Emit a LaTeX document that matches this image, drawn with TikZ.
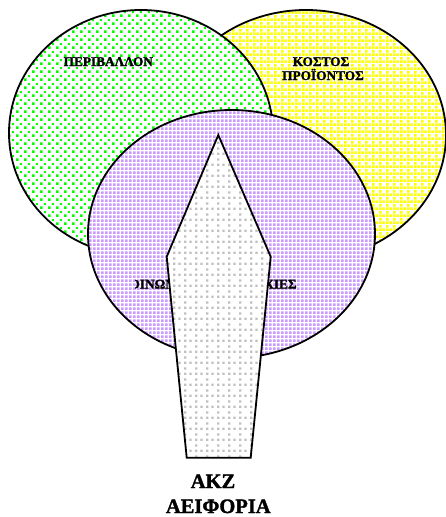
\documentclass[tikz,border=0pt]{standalone}
\usepackage{fontspec}
\setmainfont{Liberation Serif}[BoldFont={Liberation Serif Bold},BoldFeatures={FakeBold=1.6}]
\usetikzlibrary{patterns,shapes.geometric}

\definecolor{leafgreen}{RGB}{0,255,0}
\definecolor{sunyellow}{RGB}{255,255,0}
\definecolor{lilac}{RGB}{204,153,255}
\definecolor{silver}{RGB}{192,192,192}

% sparse dots
\pgfdeclarepatternformonly{sparsedots}{\pgfpoint{0pt}{0pt}}{\pgfpoint{8.4pt}{8.4pt}}{\pgfpoint{8.4pt}{8.4pt}}{%
  \pgfpathrectangle{\pgfpoint{0pt}{0pt}}{\pgfpoint{2.7pt}{2.7pt}}%
  \pgfpathrectangle{\pgfpoint{4.2pt}{4.2pt}}{\pgfpoint{2.1pt}{2.1pt}}%
  \pgfusepath{fill}}
% denser dots
\pgfdeclarepatternformonly{densedots}{\pgfpoint{0pt}{0pt}}{\pgfpoint{7.4pt}{7.4pt}}{\pgfpoint{7.4pt}{7.4pt}}{%
  \pgfpathrectangle{\pgfpoint{0pt}{0pt}}{\pgfpoint{2.7pt}{2.7pt}}%
  \pgfpathrectangle{\pgfpoint{3.7pt}{0pt}}{\pgfpoint{2.7pt}{2.7pt}}%
  \pgfpathrectangle{\pgfpoint{0pt}{3.7pt}}{\pgfpoint{2.7pt}{2.7pt}}%
  \pgfusepath{fill}}
% small squares grid
\pgfdeclarepatternformonly{squaregrid}{\pgfpoint{0pt}{0pt}}{\pgfpoint{3.7pt}{3.7pt}}{\pgfpoint{3.7pt}{3.7pt}}{%
  \pgfpathrectangle{\pgfpoint{0pt}{0pt}}{\pgfpoint{2.8pt}{2.8pt}}%
  \pgfusepath{fill}}
% dotted grid
\pgfdeclarepatternformonly{dottedgrid}{\pgfpoint{0pt}{0pt}}{\pgfpoint{10.8pt}{10.8pt}}{\pgfpoint{10.8pt}{10.8pt}}{%
  \pgfpathrectangle{\pgfpoint{0pt}{0pt}}{\pgfpoint{2.3pt}{2.3pt}}%
  \pgfpathrectangle{\pgfpoint{5.4pt}{0pt}}{\pgfpoint{2.3pt}{2.3pt}}%
  \pgfpathrectangle{\pgfpoint{0pt}{5.4pt}}{\pgfpoint{2.3pt}{2.3pt}}%
  \pgfusepath{fill}}

\begin{document}
\begin{tikzpicture}[x=1pt,y=-1pt,
  ring/.style={ellipse, draw=black, line width=1.8pt, inner sep=0pt, outer sep=0pt,
    preaction={fill=white}},
  lbl/.style={font=\bfseries\fontsize{13.3}{14}\selectfont, inner sep=0pt},
  big/.style={font=\bfseries\fontsize{20.5}{24}\selectfont, inner sep=0pt}]
\useasboundingbox (0,0) rectangle (446,517);

% the three overlapping sets
\node[ring, minimum width=280pt, minimum height=250pt,
  pattern=densedots, pattern color=sunyellow] (cost) at (306,135) {};
\node[ring, minimum width=264pt, minimum height=246pt,
  pattern=sparsedots, pattern color=leafgreen] (env) at (141,133) {};
\node[ring, minimum width=287pt, minimum height=248pt,
  pattern=squaregrid, pattern color=lilac] (social) at (231.5,234) {};

% set labels
\node[lbl, anchor=base] (envtxt) at (108.3,66) {ΠΕΡΙΒΑΛΛΟΝ};
\node[lbl, anchor=base] (costtxt) at (321,66) {ΚΟΣΤΟΣ};
\node[lbl, anchor=base] (costtxt2) at (323,80) {ΠΡΟΪΟΝΤΟΣ};
\begin{scope}
  \clip (135,270) rectangle (310,295);
  \node[lbl, anchor=base west] (socialtxt) at (119.5,288.5)
    {ΚΟΙΝΩΝΙΚΕΣ\hspace{8.5pt}ΑΝΗΣΥΧΙΕΣ};
\end{scope}

% arrow-shaped core
\coordinate (tip) at (218.3,135);
\coordinate (rs) at (270.7,256.7);
\coordinate (rb) at (250.7,457.7);
\coordinate (lb) at (186.7,457.7);
\coordinate (ls) at (166.7,256.7);
\path[draw=black, line width=1.8pt, line join=miter, preaction={fill=white},
  pattern=dottedgrid, pattern color=silver]
  (tip) -- (rs) -- (rb) -- (lb) -- (ls) -- cycle;

% caption
\node[big, anchor=base] (akz) at (213,488) {ΑΚΖ};
\node[big, anchor=base] (aeiforia) at (218.3,513) {ΑΕΙΦΟΡΙΑ};
\end{tikzpicture}
\end{document}
